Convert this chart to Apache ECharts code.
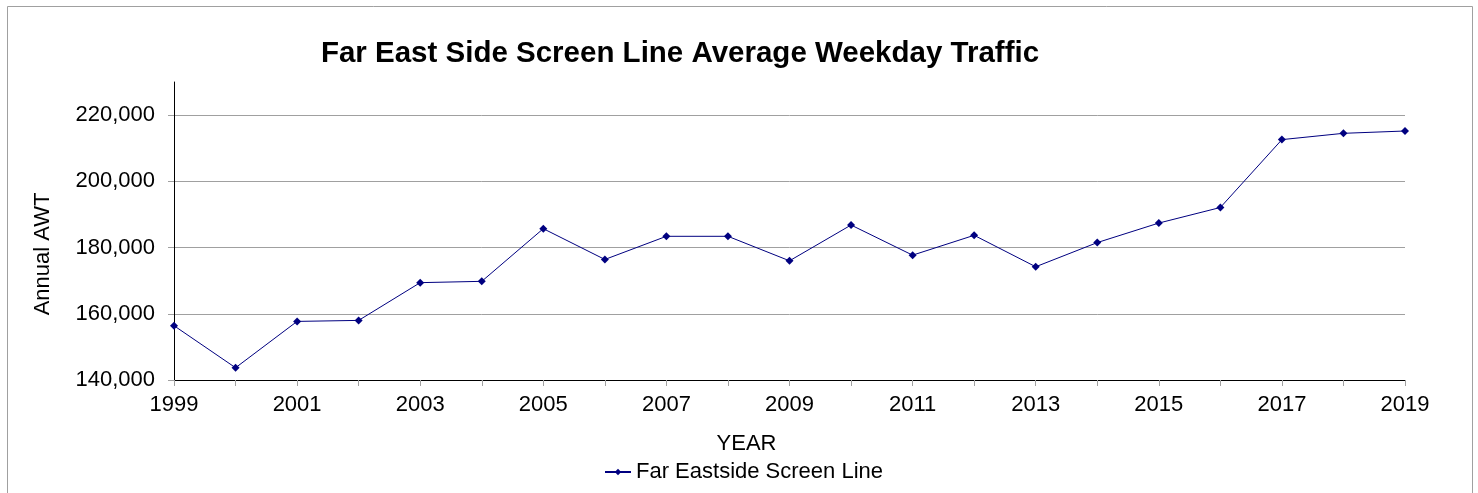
<!DOCTYPE html>
<html>
<head>
<meta charset="utf-8">
<script src="https://cdn.jsdelivr.net/npm/echarts@6/dist/echarts.min.js"></script>
<style>
  html, body { margin: 0; padding: 0; background: #fff; }
  #chart { width: 1478px; height: 493px; }
</style>
</head>
<body>
<div id="chart"></div>
<script>
// 年份（类目轴）
const years = ['1999', '2000', '2001', '2002', '2003', '2004', '2005', '2006', '2007', '2008', '2009',
  '2010', '2011', '2012', '2013', '2014', '2015', '2016', '2017', '2018', '2019'];
// 年平均工作日交通量
const awtValues = [156400, 143700, 157700, 158000, 169400, 169800, 185700, 176400, 183400, 183400, 176000,
  186800, 177700, 183700, 174200, 181500, 187400, 192100, 212600, 214500, 215200];
const seriesName = 'Far Eastside Screen Line';

const myChart = echarts.init(document.getElementById('chart'));
const font = 'Liberation Sans, Arial, sans-serif';

const option = {
  animation: false,
  backgroundColor: '#fff',
  title: {
    text: 'Far East Side Screen Line Average Weekday Traffic',
    left: 675,
    textAlign: 'center',
    top: 34,
    textStyle: { fontFamily: font, fontSize: 29.5, fontWeight: 'bold', color: '#000' }
  },
  graphic: [{
    type: 'rect',
    shape: { x: 7.5, y: 6.5, width: 1465, height: 500 },
    style: { fill: 'none', stroke: '#a0a0a0', lineWidth: 1 },
    silent: true
  }],
  legend: {
    data: [seriesName],
    left: 604,
    top: 461,
    padding: 0,
    itemWidth: 26,
    itemHeight: 8,
    textStyle: { fontFamily: font, fontSize: 22, color: '#000' }
  },
  grid: { left: 174, right: 73, top: 82, bottom: 113 },
  xAxis: {
    type: 'category',
    data: years,
    boundaryGap: false,
    name: 'YEAR',
    nameLocation: 'middle',
    nameGap: 53,
    nameTextStyle: { fontFamily: font, fontSize: 22, color: '#000', padding: [0, 86, 0, 0] },
    axisLine: { lineStyle: { color: '#000', width: 1 } },
    axisTick: { show: true, interval: 0, length: 6, lineStyle: { color: '#a0a0a0' } },
    axisLabel: { interval: 1, margin: 14, fontFamily: font, fontSize: 22, color: '#000' },
    splitLine: { show: false }
  },
  yAxis: {
    type: 'value',
    min: 140000,
    max: 230000,
    interval: 20000,
    name: 'Annual AWT',
    nameLocation: 'middle',
    nameGap: 120,
    nameTextStyle: { fontFamily: font, fontSize: 22, color: '#000', padding: [0, 46, 0, 0] },
    axisLine: { show: true, lineStyle: { color: '#000', width: 1 } },
    axisTick: { show: true, length: 6, lineStyle: { color: '#a0a0a0' } },
    axisLabel: {
      showMaxLabel: false,
      margin: 19,
      fontFamily: font,
      fontSize: 22,
      color: '#000',
      formatter: function (v) { return v.toLocaleString('en-US'); }
    },
    splitLine: { show: true, showMaxLine: false, lineStyle: { color: '#a0a0a0', width: 1 } }
  },
  series: [{
    name: seriesName,
    type: 'line',
    data: awtValues,
    symbol: 'diamond',
    symbolSize: 8,
    showAllSymbol: true,
    lineStyle: { color: '#000080', width: 1 },
    itemStyle: { color: '#000080' }
  }]
};

myChart.setOption(option, true);
</script>
</body>
</html>
